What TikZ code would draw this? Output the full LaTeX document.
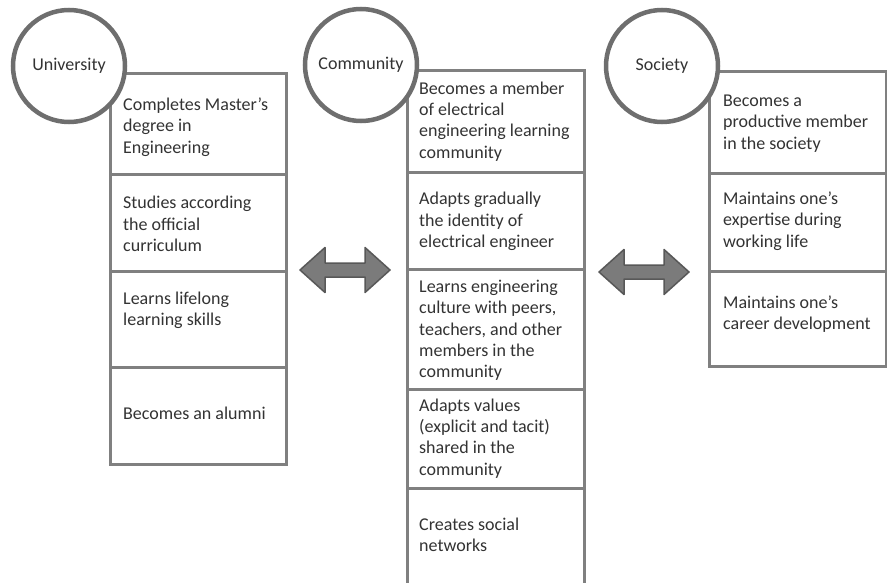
\documentclass[tikz,border=0pt]{standalone}
\usepackage{fontspec}
\setmainfont{Carlito}
\usetikzlibrary{shadows}
\definecolor{cellgray}{HTML}{808080}
\definecolor{ringgray}{HTML}{6E6E6E}
\definecolor{inkgray}{HTML}{333333}
\definecolor{arrowfill}{HTML}{7B7B7B}
\definecolor{arrowline}{HTML}{585858}
\begin{document}
\begin{tikzpicture}[x=1pt,y=-1pt,
  cell/.style={draw=cellgray, line width=3pt, fill=white, inner sep=0pt},
  ucol/.style={cell, minimum width=176pt},
  ccol/.style={cell, minimum width=177pt},
  scol/.style={cell, minimum width=177pt},
  txt/.style={anchor=west, align=left, inner sep=0pt, text=inkgray,
    font=\fontsize{18}{21.3}\selectfont},
  ring/.style={circle, draw=ringgray, line width=4.5pt, fill=white,
    minimum size=112pt, inner sep=0pt, text=inkgray,
    font=\fontsize{18}{21.3}\selectfont,
    drop shadow={shadow xshift=1.5pt, shadow yshift=-2pt, opacity=0.25}},
  twoway/.style={fill=arrowfill, draw=arrowline, line width=1.5pt, line join=round}
]
\useasboundingbox (0,0) rectangle (887,583);

% University column
\node[ucol, minimum height=101pt] (u1) at (198,124.5) {};
\node[ucol, minimum height=96pt]  (u2) at (198,223) {};
\node[ucol, minimum height=96pt]  (u3) at (198,319) {};
\node[ucol, minimum height=97pt]  (u4) at (198,415.5) {};
\node[txt] (ut1) at (123,127)   {Completes Master’s\\degree in\\Engineering};
\node[txt] (ut2) at (123,224)   {Studies according\\the official\\curriculum};
\node[txt] (ut3) at (123,310.5) {Learns lifelong\\learning skills};
\node[txt] (ut4) at (123,413)   {Becomes an alumni};

% Community column
\node[ccol, minimum height=102pt] (c1) at (495.5,122) {};
\node[ccol, minimum height=96pt]  (c2) at (495.5,221) {};
\node[ccol, minimum height=120pt] (c3) at (495.5,329) {};
\node[ccol, minimum height=99pt]  (c4) at (495.5,438.5) {};
\node[ccol, minimum height=104pt] (c5) at (495.5,540) {};
\node[txt] (ct1) at (419,121.5) {Becomes a member\\of electrical\\engineering learning\\community};
\node[txt] (ct2) at (419,221.5) {Adapts gradually\\the identity of\\electrical engineer};
\node[txt] (ct3) at (419,330.5) {Learns engineering\\culture with peers,\\teachers, and other\\members in the\\community};
\node[txt] (ct4) at (419,438.5) {Adapts values\\(explicit and tacit)\\shared in the\\community};
\node[txt] (ct5) at (419,534.5) {Creates social\\networks};

% Society column
\node[scol, minimum height=102pt] (s1) at (797.5,123) {};
\node[scol, minimum height=97pt]  (s2) at (797.5,222.5) {};
\node[scol, minimum height=95pt]  (s3) at (797.5,318.5) {};
\node[txt] (st1) at (723,123.5) {Becomes a\\productive member\\in the society};
\node[txt] (st2) at (723,221)   {Maintains one’s\\expertise during\\working life};
\node[txt] (st3) at (723,314)   {Maintains one’s\\career development};

% Headings in circles
\node[ring] (univ) at (69,66)  {University};
\node[ring] (comm) at (361,65) {Community};
\node[ring] (soc)  at (662,66) {Society};

% Two-way arrows between the columns
\coordinate (a1) at (345,270);
\coordinate (a2) at (644,272);
\foreach \c in {a1,a2}{
  \draw[twoway, shift={(\c)}]
    (-45,0) -- (-20,-22.5) -- (-20,-7) -- (20,-7) -- (20,-22.5) -- (45,0)
    -- (20,22.5) -- (20,7) -- (-20,7) -- (-20,22.5) -- cycle;
}
\end{tikzpicture}
\end{document}
